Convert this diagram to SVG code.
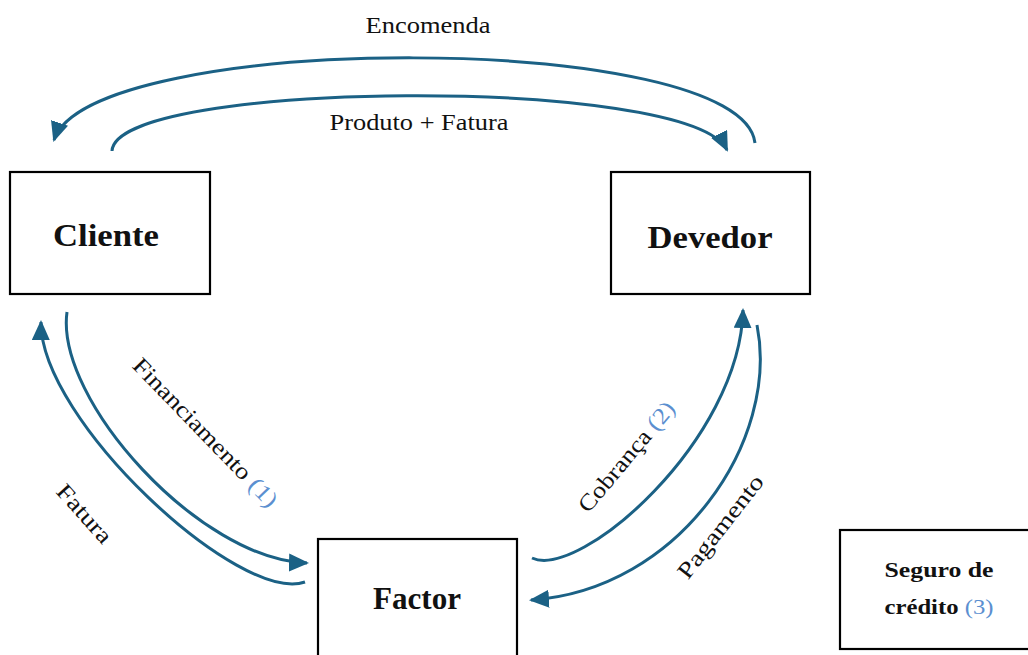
<svg xmlns="http://www.w3.org/2000/svg" width="1028" height="655" viewBox="0 0 1028 655">
<style>
.box{fill:#fff;stroke:#000;stroke-width:2.2}
.lbl{font-family:"Liberation Serif",serif;fill:#111}
.node{font-family:"Liberation Serif",serif;font-weight:bold;fill:#111;text-anchor:middle}
.num{fill:#5b8fd0;font-weight:normal}
.arc{fill:none;stroke:#1b6185;stroke-width:3}
</style>
<defs>
<marker id="ah" markerUnits="userSpaceOnUse" markerWidth="22" markerHeight="20" refX="18" refY="9" orient="auto" viewBox="0 0 22 20">
<path d="M0,0 L20,9 L0,18 z" fill="#1b6185"/>
</marker>
</defs>
<g id="connectors">
<path class="arc" d="M755,143 C742,30 90,30 54,140" marker-end="url(#ah)"/>
<path class="arc" d="M112,151 C115,80 690,75 727,150" marker-end="url(#ah)"/>
<path class="arc" d="M305,582 C240,605 40,420 41,322" marker-end="url(#ah)"/>
<path class="arc" d="M67,312 C55,400 200,560 307,563" marker-end="url(#ah)"/>
<path class="arc" d="M532,558 C580,580 740,440 743,310" marker-end="url(#ah)"/>
<path class="arc" d="M757,325 C780,440 680,590 531,600" marker-end="url(#ah)"/>
</g>
<g id="labels">
<text class="lbl" x="428" y="33" font-size="24" text-anchor="middle" textLength="125" lengthAdjust="spacingAndGlyphs">Encomenda</text>
<text class="lbl" x="419" y="130" font-size="23" text-anchor="middle" textLength="179" lengthAdjust="spacingAndGlyphs">Produto + Fatura</text>
<text class="lbl" font-size="23" text-anchor="middle" transform="translate(205,433) rotate(46)" x="0" y="7" textLength="198" lengthAdjust="spacingAndGlyphs">Financiamento <tspan class="num">(1)</tspan></text>
<text class="lbl" font-size="23" text-anchor="middle" transform="translate(84,514) rotate(48)" x="0" y="7" textLength="71" lengthAdjust="spacingAndGlyphs">Fatura</text>
<text class="lbl" font-size="23" text-anchor="middle" transform="translate(627,457) rotate(-50)" x="0" y="7" textLength="137" lengthAdjust="spacingAndGlyphs">Cobrança <tspan class="num">(2)</tspan></text>
<text class="lbl" font-size="23" text-anchor="middle" transform="translate(721,527) rotate(-52)" x="0" y="7" textLength="125" lengthAdjust="spacingAndGlyphs">Pagamento</text>
</g>
<g id="cliente">
<rect class="box" x="10" y="172" width="200" height="122"/>
<text class="node" x="106" y="246" font-size="31" textLength="106" lengthAdjust="spacingAndGlyphs">Cliente</text>
</g>
<g id="devedor">
<rect class="box" x="611" y="172" width="199" height="122"/>
<text class="node" x="710" y="248" font-size="31" textLength="125" lengthAdjust="spacingAndGlyphs">Devedor</text>
</g>
<g id="factor">
<rect class="box" x="318" y="539" width="199" height="130"/>
<text class="node" x="417" y="609" font-size="31" textLength="88" lengthAdjust="spacingAndGlyphs">Factor</text>
</g>
<g id="seguro">
<rect class="box" x="840" y="530" width="200" height="119"/>
<text class="node" x="939" y="577" font-size="22" textLength="109" lengthAdjust="spacingAndGlyphs">Seguro de</text>
<text class="node" x="939" y="614" font-size="22" textLength="109" lengthAdjust="spacingAndGlyphs">crédito <tspan class="num">(3)</tspan></text>
</g>
</svg>
